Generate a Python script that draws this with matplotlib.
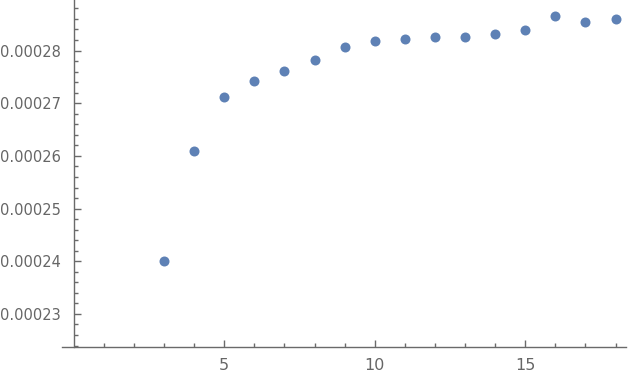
import numpy as np
import matplotlib
matplotlib.use("Agg")
import matplotlib.pyplot as plt
from matplotlib.ticker import FixedLocator, FormatStrFormatter

# data
n_vals = [3, 4, 5, 6, 7, 8, 9, 10, 11, 12, 13, 14, 15, 16, 17, 18]
y_vals = [0.0002401, 0.0002610, 0.0002712, 0.0002743, 0.0002762, 0.0002782,
          0.0002806, 0.0002819, 0.0002822, 0.0002826, 0.0002826, 0.0002832,
          0.0002839, 0.0002866, 0.0002855, 0.0002859]

x_major = [5, 10, 15]
x_minor = [v for v in range(1, 19) if v not in x_major]
y_major = [0.00023, 0.00024, 0.00025, 0.00026, 0.00027, 0.00028]
y_minor = [k * 0.000002 for k in range(112, 145) if k % 5 != 0]

axis_col = '#6a6a6a'
label_col = '#666666'

fig = plt.figure(figsize=(6.3, 3.74), dpi=100)
ax = fig.add_axes([0, 0, 1, 1])

ax.plot(n_vals, y_vals, 'o', color='#5e81b5', markersize=7.2,
        markeredgewidth=0, clip_on=False)

ax.set_xlim(-2.45, 18.48)
ax.set_ylim(0.0002186, 0.0002896)

# Mathematica-like axes crossing at the lower-left of the plot range
x_axis_y = 0.0002237
ax.spines['left'].set_position(('data', 0))
ax.spines['bottom'].set_position(('data', x_axis_y))
ax.spines['bottom'].set_bounds(-0.39, 18.35)
ax.spines['left'].set_bounds(x_axis_y, 0.0002896)
for s in ['top', 'right']:
    ax.spines[s].set_visible(False)
for s in ['left', 'bottom']:
    ax.spines[s].set_color(axis_col)
    ax.spines[s].set_linewidth(1.0)

ax.xaxis.set_major_locator(FixedLocator(x_major))
ax.xaxis.set_minor_locator(FixedLocator(x_minor))
ax.yaxis.set_major_locator(FixedLocator(y_major))
ax.yaxis.set_minor_locator(FixedLocator(y_minor))
ax.yaxis.set_major_formatter(FormatStrFormatter('%.5f'))

ax.tick_params(axis='both', which='major', direction='in', length=5,
               width=1, color=axis_col, labelcolor=label_col)
ax.tick_params(axis='both', which='minor', direction='in', length=3,
               width=1, color=axis_col)
ax.tick_params(axis='x', which='major', labelsize=11.5, pad=8)
ax.tick_params(axis='y', which='major', labelsize=10.5, pad=9)

fig.savefig('out.png', dpi=100)
